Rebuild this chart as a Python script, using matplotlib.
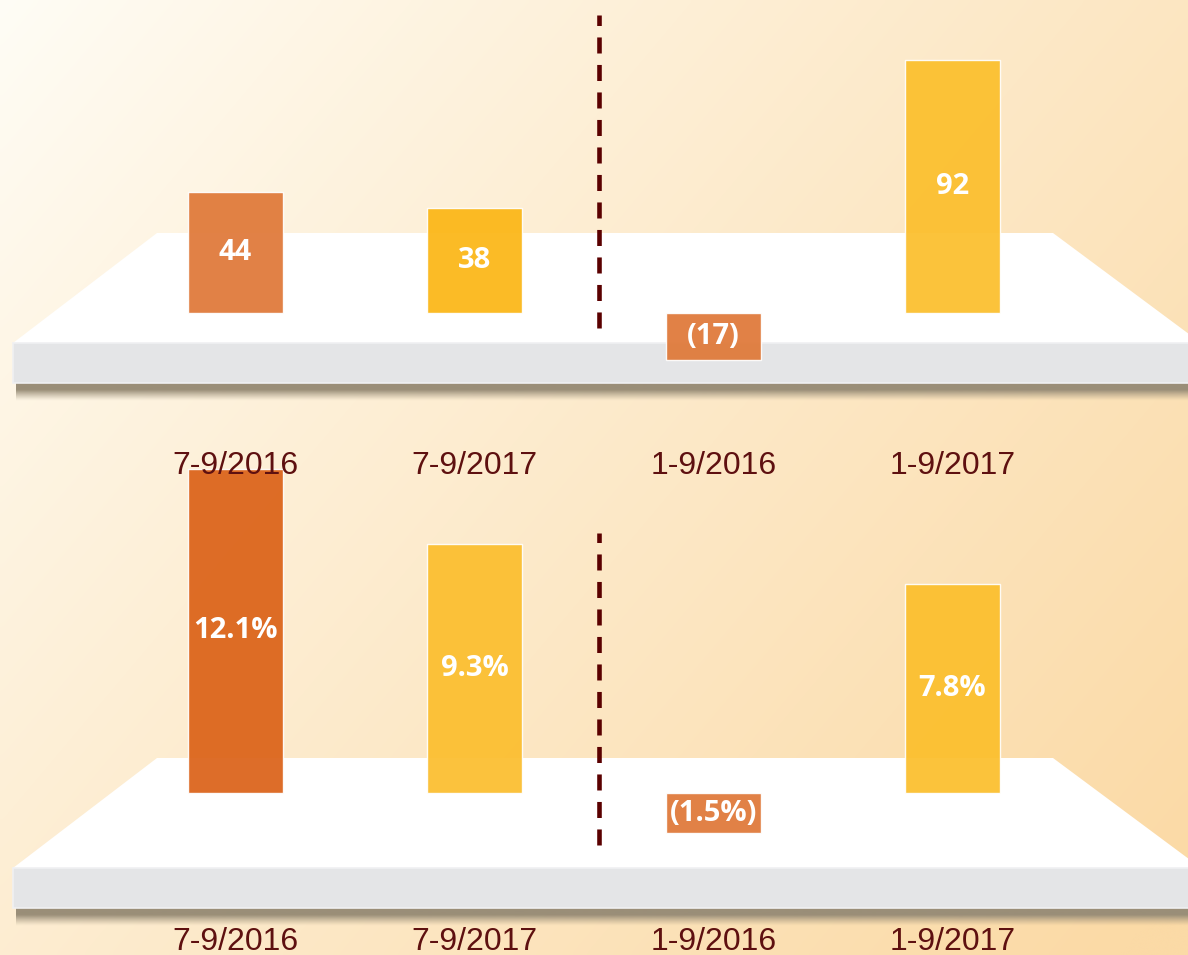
import numpy as np
import matplotlib
matplotlib.use("Agg")
import matplotlib.pyplot as plt
from matplotlib.patches import Polygon, Rectangle
from matplotlib.colors import to_rgb

# data
periods = ["7-9/2016", "7-9/2017", "1-9/2016", "1-9/2017"]
profit = [44, 38, -17, 92]
growth = [12.1, 9.3, -1.5, 7.8]

# styles
top_colors = ["#df7838", "#fbb615", "#df7838", "#fbbf2c"]
bottom_colors = ["#db6218", "#fbbe2e", "#df7838", "#fbbf2c"]
label_color = "#5e1010"
dash_color = "#5a0000"

W, H = 1188, 955
fig = plt.figure(figsize=(W / 100, H / 100), dpi=100)

# background gradient
bg = fig.add_axes([0, 0, 1, 1], zorder=0)
xx, yy = np.meshgrid(np.linspace(0, 1, 240), np.linspace(0, 1, 200))
t = np.clip(0.62 * xx + 0.42 * yy, 0, 1) ** 0.9
c0 = np.array(to_rgb("#fffdf6"))
c1 = np.array(to_rgb("#fbdaa6"))
bg.imshow(c0 + (c1 - c0) * t[..., None], extent=[0, W, H, 0], aspect="auto",
          interpolation="bicubic")


def shelf(top):
    # white top surface, grey front edge and soft shadow
    front = top + 110
    bg.add_patch(Polygon([(157, top), (1053, top), (1201, front), (13, front)],
                         closed=True, fc="white", ec="none"))
    sh = np.zeros((32, 1, 4))
    sh[..., :3] = to_rgb("#9a8e78")
    prof = np.clip(np.linspace(1.6, 0, 32), 0, 1)
    sh[..., 3] = prof[:, None] ** 1.2
    bg.imshow(sh, extent=[16, W, front + 58, front + 40], aspect="auto")
    bg.add_patch(Rectangle((13, front), W, 40, fc="#e4e5e7", ec="#f0f0f2", lw=1.2))


shelf(233)
shelf(758)
bg.set_xlim(0, W)
bg.set_ylim(H, 0)
bg.axis("off")


def axes_rect(baseline_px, px_per_unit, ylim):
    top_px = baseline_px - ylim[1] * px_per_unit
    bot_px = baseline_px - ylim[0] * px_per_unit
    left, right = 116, 1072
    return [left / W, (H - bot_px) / H, (right - left) / W, (bot_px - top_px) / H], bot_px


def panel(baseline_px, px_per_unit, ylim, values, colors, fmt, dash_span, label_top, z):
    rect, bot_px = axes_rect(baseline_px, px_per_unit, ylim)
    ax = fig.add_axes(rect, zorder=z)
    ax.patch.set_visible(False)
    x = np.arange(len(periods))
    ax.bar(x, values, width=0.4, color=colors, alpha=0.93,
           edgecolor=(1, 1, 1, 0.35), linewidth=1)
    ax.vlines(1.52, dash_span[0], dash_span[1], colors=dash_color, lw=3.3,
              linestyles=(0, (3.5, 2.5)))
    for xi, v in zip(x, values):
        ax.text(xi, v / 2, fmt(v), ha="center", va="center", color="white",
                fontsize=21, fontweight="bold", family="Open Sans")
    ax.set_xlim(-0.5, 3.5)
    ax.set_ylim(*ylim)
    ax.set_xticks(x, periods)
    ax.set_yticks([])
    ax.tick_params(axis="x", length=0, pad=(label_top - bot_px) * 0.72,
                   labelsize=23, labelcolor=label_color)
    for lab in ax.get_xticklabels():
        lab.set_family("Liberation Sans")
    for s in ax.spines.values():
        s.set_visible(False)
    return ax


def fmt_num(v):
    return f"({abs(v):g})" if v < 0 else f"{v:g}"


def fmt_pct(v):
    return f"({abs(v):.1f}%)" if v < 0 else f"{v:.1f}%"


panel(313, 2.75, (-25, 110), profit, top_colors, fmt_num, (-5.45, 108.4), 451, 3)
panel(793, 26.8, (-2.5, 13.5), growth, bottom_colors, fmt_pct, (-1.94, 9.7), 927, 2)

fig.savefig("out.png", dpi=100)
